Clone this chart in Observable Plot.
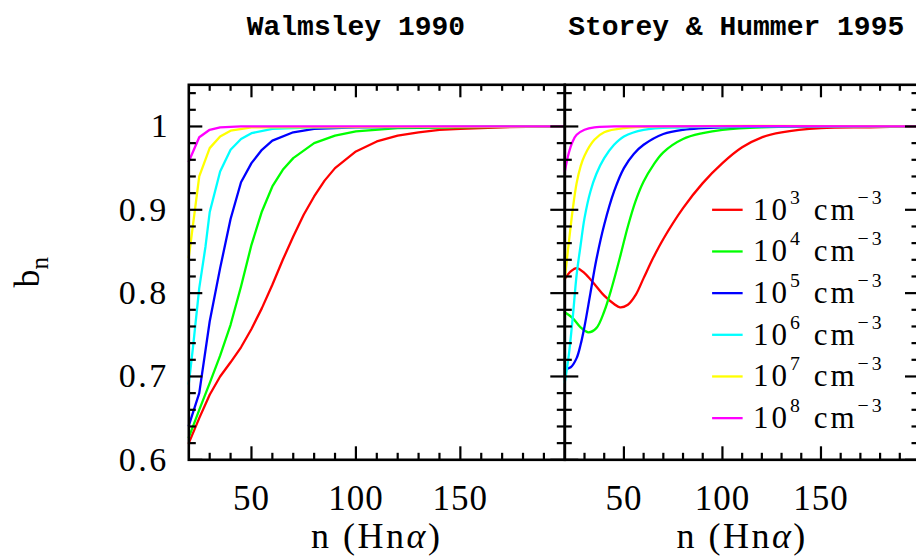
<!DOCTYPE html>
<html>
<head>
<meta charset="utf-8">
<script src="https://cdn.jsdelivr.net/npm/d3@7"></script>
<script src="https://cdn.jsdelivr.net/npm/@observablehq/plot@0.6"></script>
<style>
html, body { margin: 0; padding: 0; background: #fff; overflow: hidden; }
#chart { position: relative; width: 916px; height: 556px; overflow: hidden; background: #fff; }
#chart svg { position: absolute; left: 0; top: 0; }
</style>
</head>
<body>
<div id="chart"></div>
<script>
// ---------- data ----------
const densityExponents = [3, 4, 5, 6, 7, 8];
const seriesColors = ["#ff0000", "#00ff00", "#0000ff", "#00ffff", "#ffff00", "#ff00ff"];
const panelTitles = ["Walmsley 1990", "Storey & Hummer 1995"];
const xTickLabels = [50, 100, 150];
const yTickLabels = [0.6, 0.7, 0.8, 0.9, 1];
const xLabel = "n (Hnα)";
const yLabel = "b_n";

// Walmsley 1990 : [n, b_n]
const wal_1e3 = [[20,0.620],[25,0.650],[30,0.678],[35,0.700],[40,0.717],[45,0.735],[50,0.757],[55,0.782],[60,0.810],[65,0.840],[70,0.868],[75,0.894],[80,0.916],[85,0.935],[90,0.950],[100,0.970],[110,0.982],[120,0.989],[130,0.993],[140,0.996],[150,0.997],[170,0.999],[200,1.000]];
const wal_1e4 = [[20,0.627],[25,0.660],[30,0.692],[35,0.725],[40,0.762],[45,0.808],[50,0.858],[55,0.898],[60,0.928],[65,0.948],[70,0.962],[80,0.980],[90,0.989],[100,0.994],[120,0.998],[150,0.999],[200,1.000]];
const wal_1e5 = [[20,0.641],[25,0.680],[30,0.766],[35,0.830],[40,0.889],[45,0.933],[50,0.956],[55,0.972],[60,0.983],[70,0.993],[80,0.997],[100,0.999],[200,1.000]];
const wal_1e6 = [[20,0.691],[22,0.735],[25,0.806],[28,0.856],[30,0.897],[35,0.946],[40,0.972],[45,0.985],[50,0.992],[60,0.997],[80,0.999],[200,1.000]];
const wal_1e7 = [[20,0.843],[25,0.940],[30,0.974],[35,0.988],[40,0.995],[50,0.999],[200,1.000]];
const wal_1e8 = [[20,0.958],[25,0.987],[30,0.996],[35,0.999],[45,1.000],[200,1.000]];

// Storey & Hummer 1995 : [n, b_n]
const sh_1e3 = [[20,0.817],[23,0.826],[26,0.830],[30,0.824],[35,0.811],[40,0.797],[45,0.787],[48,0.783],[52,0.786],[56,0.798],[60,0.818],[65,0.843],[70,0.865],[80,0.902],[90,0.932],[100,0.956],[110,0.975],[120,0.987],[130,0.993],[150,0.998],[175,0.999],[200,1.000]];
const sh_1e4 = [[20,0.777],[24,0.770],[28,0.759],[32,0.753],[36,0.758],[40,0.778],[44,0.808],[48,0.843],[52,0.880],[56,0.911],[60,0.934],[65,0.954],[70,0.969],[80,0.985],[90,0.992],[100,0.996],[120,0.999],[200,1.000]];
const sh_1e5 = [[20,0.709],[23,0.711],[26,0.722],[28,0.738],[30,0.760],[33,0.800],[36,0.840],[40,0.882],[45,0.922],[50,0.950],[55,0.967],[60,0.978],[70,0.991],[80,0.996],[100,0.999],[200,1.000]];
const sh_1e6 = [[20,0.693],[22,0.725],[24,0.770],[26,0.822],[28,0.857],[30,0.890],[33,0.922],[36,0.943],[40,0.962],[45,0.978],[50,0.988],[60,0.996],[80,0.999],[200,1.000]];
const sh_1e7 = [[20,0.818],[22,0.860],[24,0.900],[26,0.932],[28,0.952],[30,0.965],[35,0.984],[40,0.993],[50,0.998],[70,1.000],[200,1.000]];
const sh_1e8 = [[20,0.946],[22,0.968],[24,0.982],[26,0.990],[30,0.996],[35,0.999],[45,1.000],[200,1.000]];

// ---------- helpers ----------
const walmsleySeries = [wal_1e3, wal_1e4, wal_1e5, wal_1e6, wal_1e7, wal_1e8];
const storeySeries = [sh_1e3, sh_1e4, sh_1e5, sh_1e6, sh_1e7, sh_1e8];
const tidy = (list) => list.flatMap((pts, i) => pts.map(([n, b]) => ({n, b, dens: densityExponents[i]})));

const xMinorTicks = d3.range(30, 200, 10).filter(v => v % 50 !== 0);
const xMajorTicks = [50, 100, 150];
const yMajorTicks = [0.6, 0.7, 0.8, 0.9, 1.0];
const yMinorTicks = d3.range(31, 53).filter(k => k % 5 !== 0).map(k => k / 50);

const H = 556, MT = 84.3, MB = 556 - 459.3;
const FH = H - MT - MB;
const SERIF = "Liberation Serif";

function makePanel({data, title, titleX, width, marginLeft, marginRight, curve, showY, legend}) {
  const fw = width - marginLeft - marginRight;
  const tk = {stroke: "black", strokeWidth: 2.2};
  const marks = [
    Plot.line(data, {x: "n", y: "b", z: "dens", stroke: "dens", strokeWidth: 2.3, curve}),
    Plot.tickX(xMinorTicks, {x: d => d, insetTop: FH - 6.5, ...tk}),
    Plot.tickX(xMinorTicks, {x: d => d, insetBottom: FH - 6.5, ...tk}),
    Plot.tickX(xMajorTicks, {x: d => d, insetTop: FH - 13, ...tk}),
    Plot.tickX(xMajorTicks, {x: d => d, insetBottom: FH - 13, ...tk}),
    Plot.tickY(yMinorTicks, {y: d => d, insetRight: fw - 7.5, ...tk}),
    Plot.tickY(yMinorTicks, {y: d => d, insetLeft: fw - 7.5, ...tk}),
    Plot.tickY(yMajorTicks, {y: d => d, insetRight: fw - 14, ...tk}),
    Plot.tickY(yMajorTicks, {y: d => d, insetLeft: fw - 14, ...tk}),
    Plot.frame({stroke: "black", strokeWidth: 2.6}),
    Plot.axisX({ticks: xTickLabels, anchor: "bottom", tickSize: 0, tickPadding: 25, fontSize: 35, label: null, tickFormat: d => String(d)}),
    Plot.text([title], {x: titleX, frameAnchor: "top", dy: 34 - MT, lineAnchor: "bottom", text: d => d,
      fontFamily: "Liberation Mono", fontWeight: "bold", fontSize: 28}),
    Plot.text([xLabel], {frameAnchor: "bottom", dy: 547 - (H - MB), lineAnchor: "bottom", text: d => d, fontSize: 36})
  ];
  if (showY) {
    marks.push(
      Plot.axisY({ticks: yTickLabels, anchor: "left", tickSize: 0, tickPadding: 20, fontSize: 34, label: null, tickFormat: d => String(d)}),
      Plot.text([yLabel], {frameAnchor: "left", dx: 38 - marginLeft, rotate: -90, textAnchor: "middle", lineAnchor: "bottom", text: d => d, fontSize: 36})
    );
  }
  if (legend) {
    const rows = densityExponents.map((e, i) => ({e, i}));
    marks.push(
      Plot.ruleY(rows, {y: d => 0.9 - 0.05 * d.i, x1: 95, x2: 110.5, stroke: d => d.e, strokeWidth: 2.3}),
      Plot.text(rows, {x: 115.5, y: d => 0.9 - 0.05 * d.i, text: d => `10^${d.e} cm^-3`, textAnchor: "start", lineAnchor: "middle", fontSize: 31, fill: "black"})
    );
  }
  return Plot.plot({
    width, height: H,
    marginTop: MT, marginBottom: MB, marginLeft, marginRight,
    x: {domain: [20, 200], label: null, axis: null},
    y: {domain: [0.6, 1.05], label: null, axis: null},
    color: {type: "ordinal", domain: densityExponents, range: seriesColors},
    style: {background: "transparent", maxWidth: "none", fontFamily: SERIF, color: "black", overflow: "visible"},
    marks
  });
}

const left = makePanel({data: tidy(walmsleySeries), title: panelTitles[0], titleX: 100, width: 916,
  marginLeft: 188.3, marginRight: 916 - 564.3, curve: "linear", showY: true, legend: false});
const right = makePanel({data: tidy(storeySeries), title: panelTitles[1], titleX: 107, width: 930,
  marginLeft: 564.3, marginRight: 930 - 919, curve: "catmull-rom", showY: false, legend: true});

const chart = document.getElementById("chart");
chart.appendChild(left);
chart.appendChild(right);

// rich text: superscripts (^), subscripts (_), italic alpha; letter spacing for the wide TeX look
const NS = "http://www.w3.org/2000/svg";
for (const svg of [left, right]) {
  svg.querySelectorAll("text").forEach(t => {
    const s = t.textContent;
    if (/^[0-9.]+$/.test(s)) {
      t.setAttribute("letter-spacing", s.includes(".") ? "2.5px" : "1px");
      return;
    }
    if (!/[\^_α]/.test(s)) return;
    if (s === xLabel) t.setAttribute("letter-spacing", "2.5px");
    if (s.startsWith("10^")) t.setAttribute("letter-spacing", "3px");
    const parts = s.split(/(\^\S+|_\S+|α)/).filter(p => p !== "");
    t.textContent = "";
    let restore = 0;
    for (const p of parts) {
      const ts = document.createElementNS(NS, "tspan");
      if (p[0] === "^") {
        ts.textContent = p.slice(1).replace("-", "\u2212");
        ts.setAttribute("font-size", "64%");
        ts.setAttribute("dy", `${-0.52 / 0.64}em`);
        restore = 0.52;
      } else if (p[0] === "_") {
        ts.textContent = p.slice(1);
        ts.setAttribute("font-size", "70%");
        ts.setAttribute("dy", `${0.26 / 0.7}em`);
        restore = -0.26;
      } else {
        ts.textContent = p;
        if (p === "α") ts.setAttribute("font-style", "italic");
        if (restore) { ts.setAttribute("dy", `${restore}em`); restore = 0; }
      }
      t.appendChild(ts);
    }
  });
}
</script>
</body>
</html>
